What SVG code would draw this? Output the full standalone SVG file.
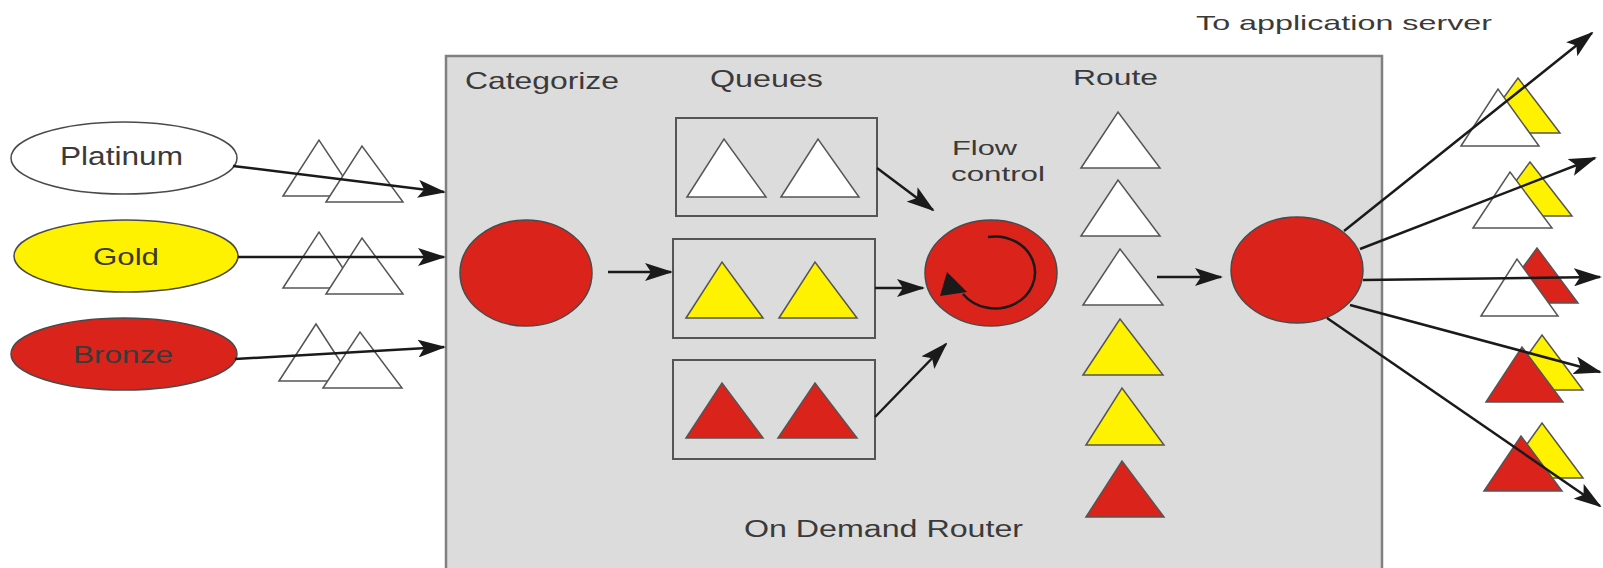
<svg xmlns="http://www.w3.org/2000/svg" width="1603" height="568" viewBox="0 0 1603 568">
<style>
text{font-family:"Liberation Sans",Arial,sans-serif;fill:#3a3a3a;}
.tri{stroke:#555;stroke-width:1.5;stroke-linejoin:miter;}
.w{fill:#ffffff;}
.y{fill:#fff200;}
.r{fill:#d9231b;}
.node{stroke:#4a4a4a;stroke-width:1.5;}
.qbox{fill:#dcdcdc;stroke:#555;stroke-width:2;}
.conn{stroke:#1a1a1a;stroke-width:2.5;fill:none;marker-end:url(#ah);}
</style>
<defs>
<marker id="ah" markerUnits="userSpaceOnUse" viewBox="0 0 28 18" refX="26" refY="9" markerWidth="28" markerHeight="18" orient="auto">
<path d="M0,0 L28,9 L0,18 L6,9 z" fill="#1a1a1a"/>
</marker>
</defs>
<rect width="1603" height="568" fill="#ffffff"/>

<g id="router-box">
<rect x="446" y="56" width="936" height="530" fill="#dcdcdc" stroke="#808080" stroke-width="2.5"/>
<text x="465" y="89" font-size="24" textLength="154" lengthAdjust="spacingAndGlyphs">Categorize</text>
<text x="710" y="87" font-size="23" textLength="113" lengthAdjust="spacingAndGlyphs">Queues</text>
<text x="1073" y="85" font-size="22" textLength="85" lengthAdjust="spacingAndGlyphs">Route</text>
<text x="744" y="537" font-size="23" textLength="279" lengthAdjust="spacingAndGlyphs">On Demand Router</text>
</g>

<g id="title">
<text x="1196" y="30" font-size="21" textLength="296" lengthAdjust="spacingAndGlyphs">To application server</text>
</g>

<g id="platinum">
<ellipse cx="124" cy="158" rx="113" ry="36" class="node w"/>
<text x="60" y="165" font-size="25" textLength="123" lengthAdjust="spacingAndGlyphs">Platinum</text>
</g>
<g id="gold">
<ellipse cx="126" cy="256" rx="112" ry="36" class="node y"/>
<text x="93" y="265" font-size="24" textLength="66" lengthAdjust="spacingAndGlyphs">Gold</text>
</g>
<g id="bronze">
<ellipse cx="124" cy="354" rx="113" ry="36" class="node r"/>
<text x="73" y="363" font-size="24" textLength="100" lengthAdjust="spacingAndGlyphs">Bronze</text>
</g>

<g id="incoming-requests">
<polygon class="tri w" points="283,196 319,140 356,196"/>
<polygon class="tri w" points="326,202 362,146 403,202"/>
<polygon class="tri w" points="283,288 319,232 356,288"/>
<polygon class="tri w" points="326,294 362,238 403,294"/>
<polygon class="tri w" points="279,381 316,324 353,381"/>
<polygon class="tri w" points="323,388 360,332 402,388"/>
</g>

<g id="categorize">
<ellipse cx="526" cy="273" rx="66" ry="53" class="node r"/>
</g>

<g id="queue-platinum">
<rect x="676" y="118" width="201" height="98" class="qbox"/>
<polygon class="tri w" points="687,197 724,139 766,197"/>
<polygon class="tri w" points="781,197 818,139 859,197"/>
</g>
<g id="queue-gold">
<rect x="673" y="239" width="202" height="99" class="qbox"/>
<polygon class="tri y" points="686,318 722,262 763,318"/>
<polygon class="tri y" points="779,318 815,262 857,318"/>
</g>
<g id="queue-bronze">
<rect x="673" y="360" width="202" height="99" class="qbox"/>
<polygon class="tri r" points="686,438 722,383 763,438"/>
<polygon class="tri r" points="778,438 815,383 857,438"/>
</g>

<g id="flow-control">
<text x="952" y="155" font-size="21" textLength="65" lengthAdjust="spacingAndGlyphs">Flow</text>
<text x="951" y="181" font-size="21" textLength="94" lengthAdjust="spacingAndGlyphs">control</text>
<ellipse cx="991" cy="273" rx="66" ry="53" class="node r"/>
<path d="M988,237 A40,36 0 1 1 963,294" fill="none" stroke="#1a1a1a" stroke-width="2.5"/>
<polygon points="947,272 940,296 967,292" fill="#1a1a1a"/>
</g>

<g id="route">
<polygon class="tri w" points="1081,168 1118,112 1160,168"/>
<polygon class="tri w" points="1081,236 1118,180 1160,236"/>
<polygon class="tri w" points="1083,305 1120,249 1163,305"/>
<polygon class="tri y" points="1083,375 1120,319 1163,375"/>
<polygon class="tri y" points="1086,445 1122,388 1164,445"/>
<polygon class="tri r" points="1086,517 1122,461 1164,517"/>
</g>

<g id="router">
<ellipse cx="1297" cy="270" rx="66" ry="53" class="node r"/>
</g>

<g id="outgoing-requests">
<polygon class="tri y" points="1478,133 1518,78 1560,133"/>
<polygon class="tri w" points="1461,146 1498,89 1539,146"/>
<polygon class="tri y" points="1490,216 1530,162 1572,216"/>
<polygon class="tri w" points="1473,228 1510,172 1552,228"/>
<polygon class="tri r" points="1497,303 1537,248 1578,303"/>
<polygon class="tri w" points="1481,316 1517,259 1558,316"/>
<polygon class="tri y" points="1503,390 1542,335 1583,390"/>
<polygon class="tri r" points="1486,402 1522,347 1563,402"/>
<polygon class="tri y" points="1503,478 1542,423 1583,478"/>
<polygon class="tri r" points="1484,491 1521,436 1562,491"/>
</g>

<g id="connectors">
<line class="conn" x1="233" y1="166" x2="444" y2="192"/>
<line class="conn" x1="238" y1="257" x2="444" y2="257"/>
<line class="conn" x1="235" y1="359" x2="444" y2="347"/>
<line class="conn" x1="608" y1="272" x2="671" y2="272"/>
<line class="conn" x1="877" y1="168" x2="933" y2="210"/>
<line class="conn" x1="875" y1="288" x2="923" y2="288"/>
<line class="conn" x1="875" y1="417" x2="946" y2="344"/>
<line class="conn" x1="1157" y1="277" x2="1221" y2="277"/>
<line class="conn" x1="1344" y1="231" x2="1592" y2="33"/>
<line class="conn" x1="1360" y1="249" x2="1595" y2="158"/>
<line class="conn" x1="1363" y1="280" x2="1600" y2="277"/>
<line class="conn" x1="1350" y1="305" x2="1600" y2="372"/>
<line class="conn" x1="1327" y1="318" x2="1600" y2="506"/>
</g>
</svg>
